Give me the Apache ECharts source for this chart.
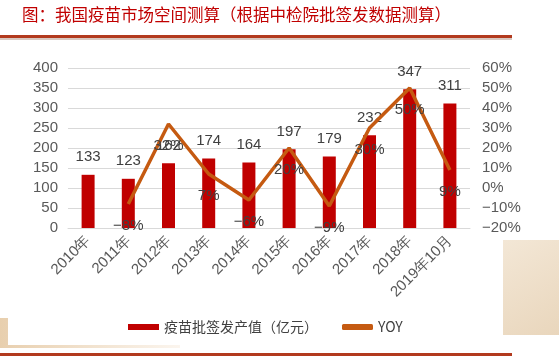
<!DOCTYPE html>
<html>
<head>
<meta charset="utf-8">
<script src="https://cdn.jsdelivr.net/npm/echarts@6/dist/echarts.min.js"></script>
<style>html,body{margin:0;padding:0;background:#fff;}#c{width:559px;height:360px;}</style>
</head>
<body>
<div id="c"></div>
<script>
var categories = ['2010年','2011年','2012年','2013年','2014年','2015年','2016年','2017年','2018年','2019年10月'];
var outputValues = [133,123,162,174,164,197,179,232,347,311];
var yoyValues = [null,-8,32,7,-6,20,-9,30,50,9];
var leftTicks = {min:0,max:400,interval:50};
var rightTicks = {min:-20,max:60,interval:10};

function pct(v){ return (v < 0 ? '\u2212' + Math.abs(v) : String(v)) + '%'; }

var chart = echarts.init(document.getElementById('c'), null, {renderer:'canvas'});
var font = '"Liberation Sans", Arial, sans-serif';
chart.setOption({
  backgroundColor:'#fff',
  animation:false,
  graphic:[
    {type:'rect',z:-10,shape:{x:503,y:240,width:56,height:95},style:{fill:new echarts.graphic.LinearGradient(0,0,1,1,[{offset:0,color:'#f3e7d6'},{offset:1,color:'#e9d6bc'}])}},
    {type:'rect',z:-10,shape:{x:0,y:318,width:180,height:30},style:{fill:new echarts.graphic.LinearGradient(0,0,1,0,[{offset:0,color:'#e8cfae'},{offset:1,color:'#fbf5ee'}])}},
    {type:'rect',z:-9,shape:{x:8,y:40,width:495,height:305},style:{fill:'#fff'}},
    {type:'text',left:22,top:6,style:{text:'图：我国疫苗市场空间测算（根据中检院批签发数据测算）',fill:'#C00000',font:'16.5px "Noto Sans CJK SC"'}},
    {type:'rect',shape:{x:0,y:35,width:512,height:3},style:{fill:'#B23A1E'}},
    {type:'rect',shape:{x:0,y:38,width:512,height:2},style:{fill:'#d8c8c0'}},
    {type:'rect',shape:{x:0,y:353,width:512,height:3},style:{fill:'#B23A1E'}}
  ],
  grid:{left:68,right:89,top:68,bottom:132,containLabel:false},
  legend:{
    left:123, top:315,
    itemGap:24,
    textStyle:{color:'#404040',fontSize:14,fontFamily:'"Noto Sans CJK SC"'},
    data:[
      {name:'疫苗批签发产值（亿元）',icon:'rect',itemStyle:{color:'#C00000'}},
      {name:'YOY',icon:'roundRect',itemStyle:{color:'#C55A11',opacity:1}}
    ],
    itemWidth:31,itemHeight:6
  },
  xAxis:{
    type:'category',data:categories,
    axisLine:{show:true,lineStyle:{color:'#d9d9d9',width:1}},
    axisTick:{show:false},
    axisLabel:{rotate:45,color:'#595959',fontSize:15,fontFamily:font,interval:0,margin:10}
  },
  yAxis:[
    {type:'value',min:leftTicks.min,max:leftTicks.max,interval:leftTicks.interval,
     axisLine:{show:false},axisTick:{show:false},
     splitLine:{lineStyle:{color:'#d9d9d9'}},
     axisLabel:{color:'#595959',fontSize:15,fontFamily:font,margin:10}},
    {type:'value',min:rightTicks.min,max:rightTicks.max,interval:rightTicks.interval,
     axisLine:{show:false},axisTick:{show:false},splitLine:{show:false},
     axisLabel:{color:'#595959',fontSize:15,fontFamily:font,margin:12,formatter:function(v){return pct(v);}}}
  ],
  series:[
    {name:'疫苗批签发产值（亿元）',type:'bar',data:outputValues,barWidth:13,
     itemStyle:{color:'#C00000'},
     label:{show:true,position:'top',distance:10,color:'#404040',fontSize:15,fontFamily:font}},
    {name:'YOY',type:'line',yAxisIndex:1,data:yoyValues,symbol:'circle',symbolSize:2,showSymbol:true,
     lineStyle:{color:'#C55A11',width:3.5},itemStyle:{color:'rgba(197,90,17,0)'},
     label:{show:true,position:'bottom',distance:13,color:'#404040',fontSize:15,fontFamily:font,formatter:function(p){return p.value==null?'':pct(p.value);}}}
  ]
});
</script>
</body>
</html>
